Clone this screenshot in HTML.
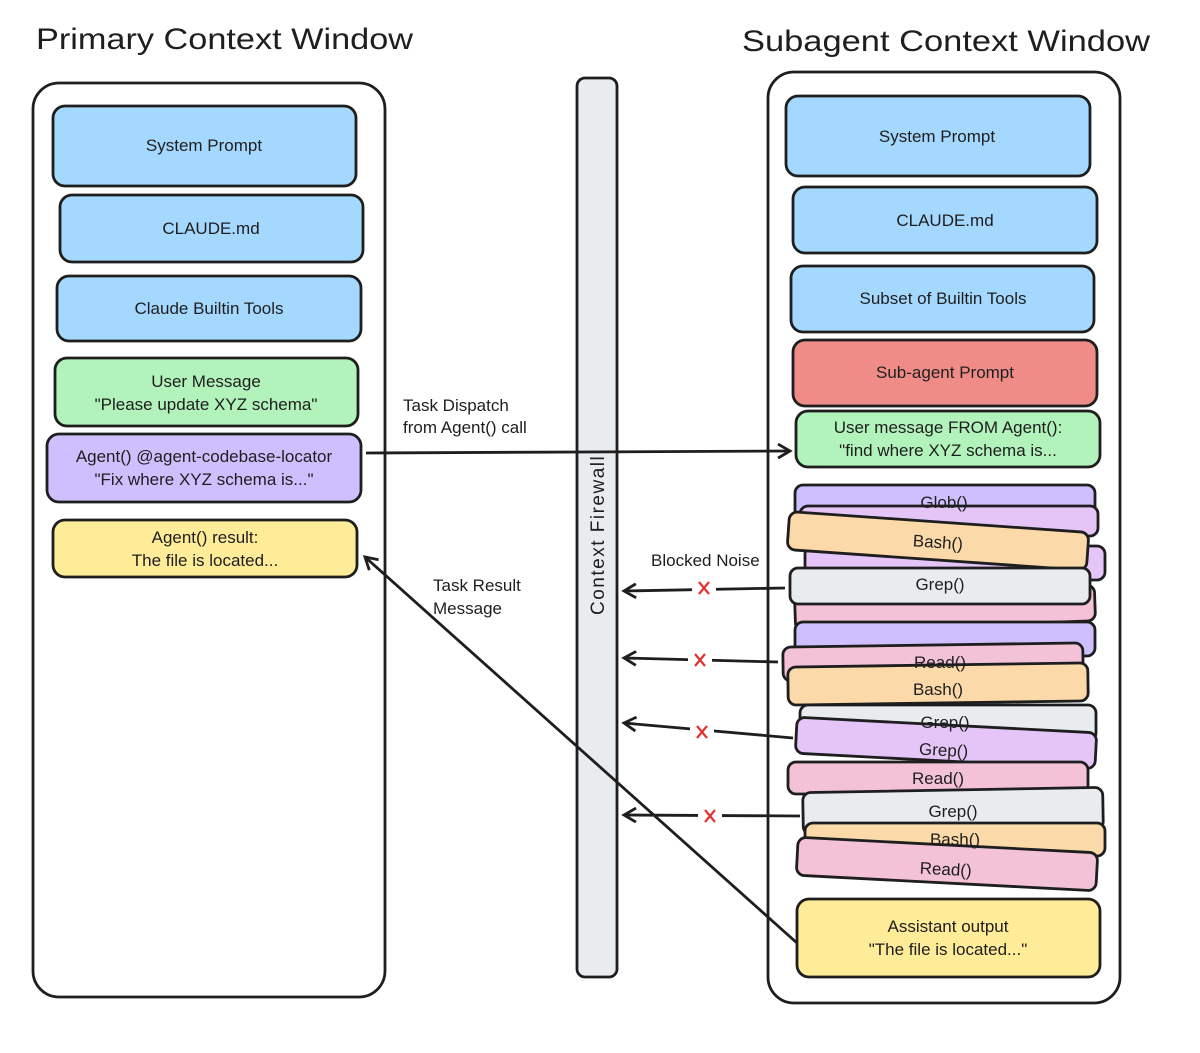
<!DOCTYPE html>
<html><head><meta charset="utf-8"><style>
html,body{margin:0;padding:0;background:#fff;}
svg text{font-family:"Liberation Sans",sans-serif;fill:#1e1e1e;}
</style></head><body>
<svg width="1200" height="1048" viewBox="0 0 1200 1048" xmlns="http://www.w3.org/2000/svg">
<defs>
<marker id="ah" markerWidth="16" markerHeight="16" refX="13" refY="8" orient="auto" markerUnits="userSpaceOnUse">
<path d="M1,1 L13,8 L1,15" fill="none" stroke="#1e1e1e" stroke-width="2.8"/>
</marker>
</defs>
<g stroke="#1e1e1e" stroke-width="2.8">
<text x="36" y="49" font-size="30" stroke="none" textLength="377" lengthAdjust="spacingAndGlyphs">Primary Context Window</text>
<text x="742" y="51" font-size="30" stroke="none" textLength="408" lengthAdjust="spacingAndGlyphs">Subagent Context Window</text>

<rect x="33" y="83" width="352" height="914" rx="26" fill="none"/>
<rect x="53" y="106" width="303" height="80" rx="12" fill="#a5d8ff"/>
<rect x="60" y="195" width="303" height="67" rx="12" fill="#a5d8ff"/>
<rect x="57" y="276" width="304" height="65" rx="12" fill="#a5d8ff"/>
<rect x="55" y="358" width="303" height="68" rx="12" fill="#b2f2bb"/>
<rect x="47" y="434" width="314" height="68" rx="12" fill="#d0bfff"/>
<rect x="53" y="520" width="304" height="57" rx="12" fill="#ffec99"/>
</g>
<g font-size="17" text-anchor="middle">
<text x="204" y="151">System Prompt</text>
<text x="211" y="234">CLAUDE.md</text>
<text x="209" y="314">Claude Builtin Tools</text>
<text x="206" y="387">User Message</text>
<text x="206" y="410">"Please update XYZ schema"</text>
<text x="204" y="462">Agent() @agent-codebase-locator</text>
<text x="204" y="485">"Fix where XYZ schema is..."</text>
<text x="205" y="543">Agent() result:</text>
<text x="205" y="566">The file is located...</text>
</g>

<rect x="577" y="78" width="40" height="899" rx="8" fill="#e9ecef" stroke="#1e1e1e" stroke-width="2.8"/>
<text transform="translate(604,615) rotate(-90)" font-size="19" letter-spacing="1.5">Context Firewall</text>

<g stroke="#1e1e1e" stroke-width="2.8">
<rect x="768" y="72" width="352" height="931" rx="26" fill="none"/>
<rect x="786" y="96" width="304" height="80" rx="12" fill="#a5d8ff"/>
<rect x="793" y="187" width="304" height="66" rx="12" fill="#a5d8ff"/>
<rect x="791" y="266" width="303" height="66" rx="12" fill="#a5d8ff"/>
<rect x="793" y="340" width="304" height="66" rx="12" fill="#f08c87"/>
<rect x="796" y="411" width="304" height="56" rx="12" fill="#b2f2bb"/>

<rect x="795" y="485" width="300" height="36" rx="8" fill="#d0bfff"/>
<rect x="800" y="506" width="298" height="30" rx="8" fill="#e5c5f8"/>
<rect x="805" y="546" width="300" height="34" rx="8" fill="#e5c5f8"/>
<rect x="795" y="590" width="300" height="36" rx="8" fill="#f4c2d7" transform="rotate(-2 945 608)"/>
<rect x="788" y="522" width="300" height="38" rx="8" fill="#fcd9a8" transform="rotate(4 938 541)"/>
<rect x="790" y="568" width="300" height="36" rx="8" fill="#e9ecef"/>
<rect x="795" y="622" width="300" height="34" rx="8" fill="#d0bfff"/>
<rect x="783" y="645" width="300" height="34" rx="8" fill="#f4c2d7" transform="rotate(-0.8 933 662)"/>
<rect x="788" y="665" width="300" height="38" rx="8" fill="#fcd9a8" transform="rotate(-0.8 938 684)"/>
<rect x="800" y="705" width="296" height="36" rx="8" fill="#e9ecef"/>
<rect x="796" y="725" width="300" height="36" rx="8" fill="#e5c5f8" transform="rotate(3 946 743)"/>
<rect x="788" y="762" width="300" height="32" rx="8" fill="#f4c2d7"/>
<rect x="803" y="790" width="300" height="42" rx="8" fill="#e9ecef" transform="rotate(-1 953 811)"/>
<rect x="805" y="823" width="300" height="33" rx="8" fill="#fcd9a8"/>
<rect x="797" y="845" width="300" height="38" rx="8" fill="#f4c2d7" transform="rotate(3 947 864)"/>
<rect x="797" y="899" width="303" height="78" rx="12" fill="#ffec99"/>
</g>
<g font-size="17" text-anchor="middle">
<text x="937" y="142">System Prompt</text>
<text x="945" y="226">CLAUDE.md</text>
<text x="943" y="304">Subset of Builtin Tools</text>
<text x="945" y="378">Sub-agent Prompt</text>
<text x="948" y="433">User message FROM Agent():</text>
<text x="948" y="456">"find where XYZ schema is...</text>
<text x="944" y="508">Glob()</text>
<text x="938" y="548" transform="rotate(4 938 541)">Bash()</text>
<text x="940" y="590">Grep()</text>
<text x="940" y="668">Read()</text>
<text x="938" y="695">Bash()</text>
<text x="945" y="728">Grep()</text>
<text x="944" y="756" transform="rotate(3 946 743)">Grep()</text>
<text x="938" y="784">Read()</text>
<text x="953" y="817">Grep()</text>
<text x="955" y="845">Bash()</text>
<text x="946" y="875" transform="rotate(3 947 864)">Read()</text>
<text x="948" y="932">Assistant output</text>
<text x="948" y="955">"The file is located..."</text>
</g>

<g stroke="#1e1e1e" stroke-width="2.8" fill="none">
<line x1="366" y1="453" x2="790" y2="451" marker-end="url(#ah)"/>
<line x1="797" y1="943" x2="365" y2="557" marker-end="url(#ah)"/>
<line x1="785" y1="588" x2="624" y2="591" marker-end="url(#ah)"/>
<line x1="778" y1="662" x2="624" y2="658" marker-end="url(#ah)"/>
<line x1="793" y1="738" x2="624" y2="723" marker-end="url(#ah)"/>
<line x1="800" y1="816" x2="624" y2="815" marker-end="url(#ah)"/>
</g>
<g fill="#fff" stroke="none">
<rect x="692" y="578" width="24" height="20"/>
<rect x="688" y="650" width="24" height="20"/>
<rect x="690" y="722" width="24" height="20"/>
<rect x="698" y="806" width="24" height="20"/>
</g>
<g stroke="#e03131" stroke-width="2.2">
<path d="M699,582 L709,594 M709,582 L699,594"/>
<path d="M695,654 L705,666 M705,654 L695,666"/>
<path d="M697,726 L707,738 M707,726 L697,738"/>
<path d="M705,810 L715,822 M715,810 L705,822"/>
</g>
<g font-size="17">
<text x="403" y="411">Task Dispatch</text>
<text x="403" y="433">from Agent() call</text>
<text x="433" y="591">Task Result</text>
<text x="433" y="614">Message</text>
<text x="651" y="566">Blocked Noise</text>
</g>
</svg>
</body></html>
